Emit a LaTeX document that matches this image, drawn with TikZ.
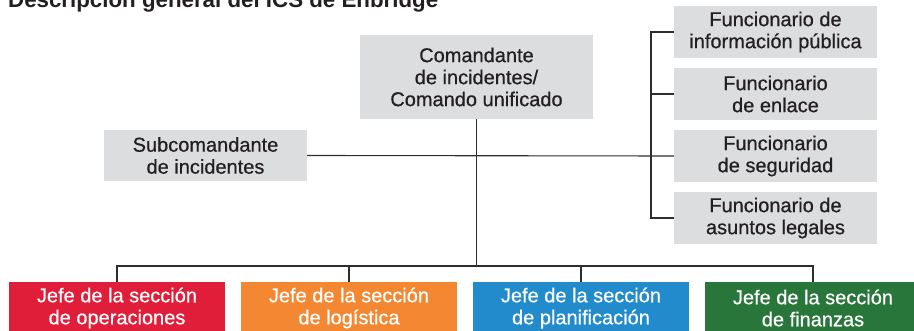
\documentclass[tikz,border=0pt]{standalone}
\usepackage{fontspec}
\setmainfont{Liberation Sans}
\newfontfamily\boxfont[FakeBold=0.6]{Liberation Sans}
\usetikzlibrary{positioning}
\definecolor{boxgray}{RGB}{220,221,223}
\definecolor{textdark}{RGB}{35,31,32}
\definecolor{linedark}{RGB}{45,45,45}
\definecolor{opsred}{RGB}{225,30,58}
\definecolor{logorange}{RGB}{244,135,50}
\definecolor{planblue}{RGB}{34,139,204}
\definecolor{fingreen}{RGB}{40,118,58}
\tikzset{
    box fill/.style={% only the fill
        fill=#1, draw=none},
    box text/.style={% centred two or three lines
        align=center, inner sep=0pt, font=\boxfont\fontsize{20}{22}\selectfont},
    gray box/.style={% command and staff boxes
        box fill=boxgray, box text, text=textdark},
    officer/.style={% staff officers on the right
        gray box, minimum width=203pt, minimum height=52pt},
    chief/.style={% section chiefs in colour
        box fill=#1, box text, text=white, minimum width=216pt, minimum height=52pt},
    link/.style={draw=linedark, line width=1.1pt}}

\begin{document}
\begin{tikzpicture}[x=1pt,y=-1pt]
\useasboundingbox (0,0) rectangle (914,331);
\clip (0,0) rectangle (914,331);
\node[anchor=base west, inner sep=0pt, text=textdark, font=\bfseries\fontsize{22.3}{24}\selectfont] (title) at (8,8) {Descripción general del ICS de Enbridge};
% command
\node[gray box, minimum width=233pt, minimum height=84pt] (ic) at (476.5,77) {Comandante\\de incidentes/\\Comando unificado};
\node[gray box, minimum width=203pt, minimum height=51pt] (deputy) at (205.5,155.5) {Subcomandante\\de incidentes};
% staff
\node[officer] (pio) at (775.5,32) {Funcionario de\\información pública};
\node[officer] (liaison) at (775.5,94) {Funcionario\\de enlace};
\node[officer] (safety) at (775.5,156) {Funcionario\\de seguridad};
\node[officer] (legal) at (775.5,218) {Funcionario de\\asuntos legales};
% sections
\node[chief=opsred] (ops) at (117,308) {Jefe de la sección\\de operaciones};
\node[chief=logorange] (log) at (349,308) {Jefe de la sección\\de logística};
\node[chief=planblue] (plan) at (581,308) {Jefe de la sección\\de planificación};
\node[chief=fingreen] (fin) at (813,308) {Jefe de la sección\\de finanzas};
\coordinate (staff) at (651,0);
\coordinate (bus) at (476.5,266);
\draw[link] (deputy.east) -- (safety.west);
\draw[link] (pio.west) -- (pio.west -| staff) |- (legal.west);
\draw[link] (liaison.west) -- (liaison.west -| staff);
\draw[link] (ic.south) -- (bus);
\draw[link] (ops.north) |- (bus) -| (fin.north);
\draw[link] (log.north) -- (log.north |- bus);
\draw[link] (plan.north) -- (plan.north |- bus);
\end{tikzpicture}
\end{document}
